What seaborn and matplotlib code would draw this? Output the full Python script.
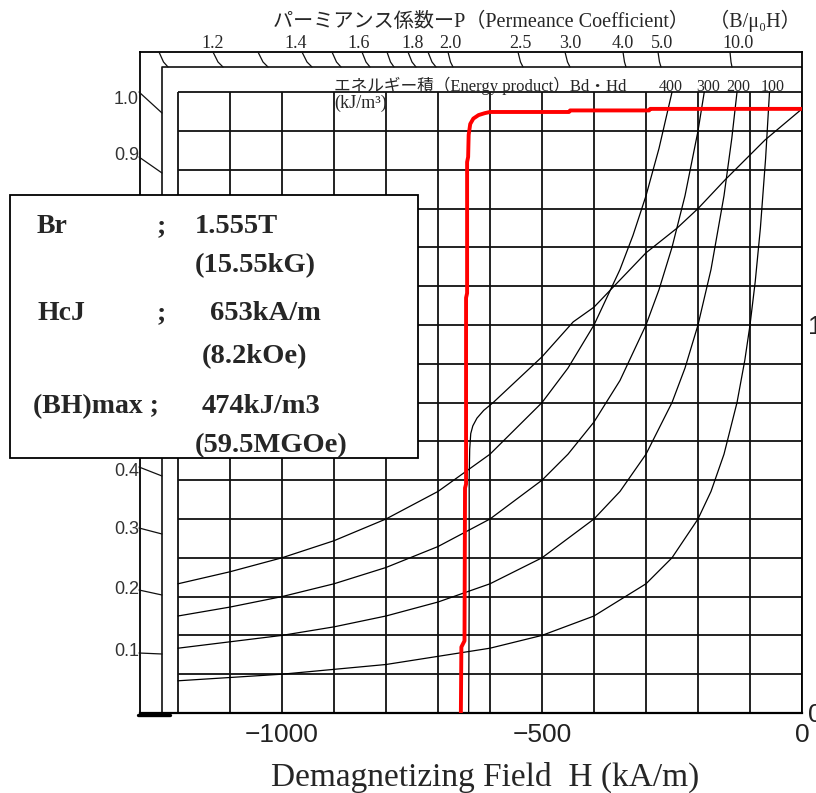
import matplotlib
matplotlib.use("Agg")
import matplotlib.pyplot as plt
import matplotlib.transforms as mtransforms
from matplotlib.patches import Rectangle
from matplotlib.lines import Line2D
import numpy as np
import pandas as pd
import seaborn as sns

# ---------------- data ----------------
# Intrinsic demagnetization curve (red), H in kA/m, J in T
red_H = [0, -292, -294, -446, -448, -600, -610, -622, -632, -638, -641, -642,
         -644, -644, -646, -646, -648, -649, -655, -656]
red_J = [1.557, 1.557, 1.553, 1.553, 1.549, 1.549, 1.546, 1.541, 1.532, 1.518,
         1.49, 1.433, 1.42, 1.082, 1.07, 0.59, 0.58, 0.186, 0.17, 0.0]

# Normal demagnetization curve (thin black)
norm_H = [0, -71, -148, -200, -240, -300, -365, -400, -440, -500, -594, -612,
          -625, -633, -637, -639, -640, -640, -641]
norm_B = [1.557, 1.477, 1.374, 1.300, 1.250, 1.186, 1.095, 1.046, 1.008, 0.918,
          0.800, 0.780, 0.760, 0.740, 0.720, 0.680, 0.600, 0.300, 0.0]

# Energy-product iso-lines (kJ/m3)
e400_H = [-1200, -1100, -1000, -900, -800, -700, -600, -500, -450, -400, -350,
          -325, -300, -275, -250]
e400_B = [0.333, 0.364, 0.400, 0.444, 0.500, 0.571, 0.667, 0.800, 0.889, 1.000,
          1.143, 1.231, 1.333, 1.455, 1.600]
e300_H = [-1200, -1100, -1000, -900, -800, -700, -600, -500, -450, -400, -350,
          -300, -275, -250, -225, -200, -188]
e300_B = [0.250, 0.273, 0.300, 0.333, 0.375, 0.429, 0.500, 0.600, 0.667, 0.750,
          0.857, 1.000, 1.091, 1.200, 1.333, 1.500, 1.600]
e200_H = [-1200, -1000, -900, -800, -700, -600, -500, -400, -350, -300, -250,
          -225, -200, -175, -150, -135, -125]
e200_B = [0.167, 0.200, 0.222, 0.250, 0.286, 0.333, 0.400, 0.500, 0.571, 0.667,
          0.800, 0.889, 1.000, 1.143, 1.333, 1.481, 1.600]
e100_H = [-1200, -1000, -800, -600, -500, -400, -300, -250, -200, -175, -150,
          -125, -110, -100, -90, -80, -70, -62.5]
e100_B = [0.083, 0.100, 0.125, 0.167, 0.200, 0.250, 0.333, 0.400, 0.500, 0.571,
          0.667, 0.800, 0.909, 1.000, 1.111, 1.250, 1.429, 1.600]
energy_labels = ["400", "300", "200", "100"]

perm_labels = ["1.2", "1.4", "1.6", "1.8", "2.0", "2.5", "3.0", "4.0", "5.0", "10.0"]
left_labels = ["1.0", "0.9", "0.4", "0.3", "0.2", "0.1"]
x_ticks = [-1000, -500, 0]
right_ticks = [0, 1]

info_rows = [
    ("Br", ";", "1.555T"),
    ("", "", "(15.55kG)"),
    ("HcJ", ";", "653kA/m"),
    ("", "", "(8.2kOe)"),
    ("(BH)max ;", "", "474kJ/m3"),
    ("", "", "(59.5MGOe)"),
]

# ---------------- figure ----------------
sns.set_style("white")
plt.rcParams['font.family'] = ['Liberation Sans', 'Noto Sans CJK JP', 'DejaVu Sans']
SERIF = ['Liberation Serif', 'Noto Sans CJK JP', 'DejaVu Sans']

W, Hpx = 816, 793
fig = plt.figure(figsize=(W / 100, Hpx / 100), dpi=100)
# pixel transform (y downward) for decorations
T = mtransforms.Affine2D().scale(1 / W, -1 / Hpx).translate(0, 1) + fig.transFigure

ax = fig.add_axes([140 / W, 1 - 713 / Hpx, 662 / W, 661 / Hpx])
ax.set_xlim(-1273, 0)
ax.set_ylim(0, 1.7036)

# grid of the chart paper
gH = np.arange(-1200, 1, 100)
gB = np.arange(0, 1.61, 0.1)
ax.vlines(gH, 0, 1.6, color='#111111', lw=1.3, zorder=1)
ax.hlines(gB, -1200, 0, color='#111111', lw=1.3, zorder=1)
# inner frame
ax.plot([-1231, -1231, 0], [0, 1.665, 1.665], color='#111111', lw=1.2, zorder=1)

for hh, bb in [(e400_H, e400_B), (e300_H, e300_B), (e200_H, e200_B), (e100_H, e100_B)]:
    sns.lineplot(x=hh, y=bb, ax=ax, sort=False, estimator=None, color='black',
                 lw=0.9, zorder=2, legend=False)
sns.lineplot(x=norm_H, y=norm_B, ax=ax, sort=False, estimator=None, color='black',
             lw=0.9, zorder=2, legend=False)
sns.lineplot(x=red_H, y=red_J, ax=ax, sort=False, estimator=None, color='#ff0000',
             lw=2.8, zorder=3, legend=False)

for s in ax.spines.values():
    s.set_color('black')
    s.set_linewidth(1.3)
ax.spines['bottom'].set_linewidth(1.6)

ax.set_xticks(x_ticks)
ax.set_xticklabels(["\u22121000", "\u2212500", "0"])
ax.tick_params(axis='x', length=0, pad=7, labelsize=19, colors='#222222')
ax.set_yticks([])
ax.set_xlabel("")
ax.set_ylabel("")

ax2 = ax.twinx()
ax2.set_ylim(ax.get_ylim())
ax2.set_yticks(right_ticks)
ax2.set_yticklabels(["0", "1"])
ax2.tick_params(axis='y', length=0, pad=4, labelsize=19, colors='#222222')
for s in ax2.spines.values():
    s.set_visible(False)

# x label
fig.text(485, 786, "Demagnetizing Field  H (kA/m)", transform=T, ha='center',
         va='baseline', fontsize=24, family=SERIF)

# top title
fig.text(273, 27, "パーミアンス係数ーP（Permeance Coefficient）\u3000（B/μ\u2080H）",
         transform=T, ha='left', va='baseline', fontsize=14.5, family=SERIF)

# permeance ticks and labels
perm_tick_x = [159, 213, 258, 302, 332, 362, 387, 408, 428, 448, 518, 565, 623, 658, 730]
perm_tick_dx = [9, 10, 10, 10, 9, 8, 7, 8, 8, 5, 5, 5, 3, 3, 2]
for x0, dx in zip(perm_tick_x, perm_tick_dx):
    fig.add_artist(Line2D([x0, x0 + dx * 0.5, x0 + dx], [52, 62, 67], transform=T,
                          color='#111111', lw=0.9))
perm_label_x = [213, 296, 359, 413, 450, 520, 570, 623, 662, 738]
for lab, x0 in zip(perm_labels, perm_label_x):
    fig.text(x0, 48, lab, transform=T, ha='center', va='baseline', fontsize=13,
             family=SERIF)

# energy product caption
fig.text(334, 91, "エネルギー積（Energy product）Bd・Hd", transform=T, ha='left',
         va='baseline', fontsize=12, family=SERIF)
fig.text(334, 108, "(kJ/m³)", transform=T, ha='left', va='baseline', fontsize=13,
         family=SERIF)
for lab, x0 in zip(energy_labels, [671, 708, 738, 773]):
    fig.text(x0, 91, lab, transform=T, ha='center', va='baseline', fontsize=11.5,
             family=SERIF)

# left induction labels with slanted ticks
left_y = [100, 155, 472, 530, 590, 652]
left_tick = [(92, 113), (157, 173), (467, 476), (528, 534), (590, 595), (653, 654)]
for lab, yy, (y0, y1) in zip(left_labels, left_y, left_tick):
    fig.text(139, yy, lab, transform=T, ha='right', va='center', fontsize=13,
             color='#333333')
    fig.add_artist(Line2D([139, 162], [y0, y1], transform=T, color='#111111', lw=0.9))

# thick stub at bottom left
fig.add_artist(Line2D([138, 170], [715, 715], transform=T, color='black', lw=2.4))

# information box
fig.add_artist(Rectangle((10, 195), 408, 263, transform=T, facecolor='white',
                         edgecolor='black', lw=1.3, zorder=5))
row_base = [233, 272, 320, 363, 413, 452]
val_x = [195, 195, 210, 202, 202, 195]
for (a, b, c), yb, vx in zip(info_rows, row_base, val_x):
    if a:
        fig.text(33 if a.startswith('(') else 37, yb, a, transform=T, ha='left',
                 va='baseline', fontsize=20, fontweight='bold', family=SERIF, zorder=6)
    if b:
        fig.text(157, yb, b, transform=T, ha='left', va='baseline', fontsize=20,
                 fontweight='bold', family=SERIF, zorder=6)
    fig.text(vx, yb, c, transform=T, ha='left', va='baseline', fontsize=20.5,
             fontweight='bold', family=SERIF, zorder=6)

fig.savefig("out.png", dpi=100)
